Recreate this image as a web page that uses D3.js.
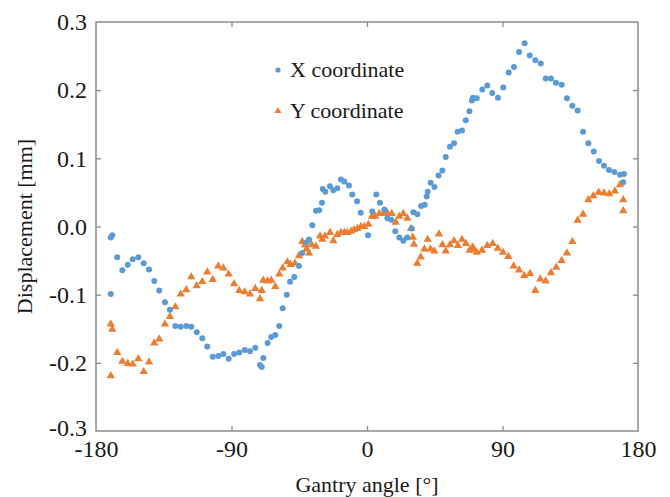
<!DOCTYPE html>
<html>
<head>
<meta charset="utf-8">
<script src="https://cdn.jsdelivr.net/npm/d3@7"></script>
<style>
 body { margin: 0; background: #fff; }
 text { font-family: "Liberation Serif", "Times New Roman", serif; fill: #1a1a1a; }
</style>
</head>
<body>
<div id="chart"></div>
<script>
// X coordinate (blue circles): gantry angle [deg], displacement [mm]
var xAngle = [-170.2,-170.2,-169.2,-165.9,-162.5,-158.9,-155.6,-151.9,-148.3,-144.8,-141.3,-138.0,-134.2,-130.9,-127.3,-123.7,-120.0,-116.7,-113.1,-109.4,-106.1,-102.5,-98.8,-95.4,-91.9,-88.3,-84.8,-81.2,-77.7,-74.2,-71.1,-69.9,-68.9,-66.0,-63.6,-60.9,-58.3,-56.0,-53.3,-51.1,-48.3,-45.2,-43.0,-40.1,-38.5,-36.3,-33.9,-31.7,-29.9,-29.4,-27.7,-24.6,-22.4,-19.7,-17.3,-15.1,-12.0,-9.8,-6.6,-4.2,0.7,3.5,6.2,8.6,11.5,13.5,16.1,18.8,21.5,24.1,26.6,29.7,30.8,33.4,35.9,38.3,39.6,40.3,42.3,44.8,47.5,50.1,52.3,55.1,57.8,60.2,63.1,65.6,68.0,69.7,70.4,72.9,76.6,79.9,83.2,87.0,90.5,94.1,97.6,101.0,104.7,108.1,111.8,115.4,118.7,122.2,125.5,129.3,132.8,136.4,139.9,143.5,147.0,150.6,154.1,157.4,160.7,164.3,168.0,170.7,170.2];
var xDisp = [-0.099,-0.016,-0.013,-0.045,-0.064,-0.056,-0.048,-0.045,-0.054,-0.063,-0.080,-0.094,-0.111,-0.122,-0.146,-0.147,-0.146,-0.147,-0.155,-0.164,-0.176,-0.191,-0.190,-0.187,-0.194,-0.187,-0.185,-0.181,-0.183,-0.178,-0.203,-0.206,-0.193,-0.171,-0.162,-0.159,-0.146,-0.120,-0.100,-0.081,-0.074,-0.058,-0.039,-0.023,-0.019,0.002,0.023,0.024,0.035,0.055,0.051,0.059,0.053,0.056,0.069,0.066,0.060,0.047,0.037,0.020,-0.013,0.022,0.047,0.035,0.025,0.012,0.010,-0.007,-0.016,-0.021,-0.016,-0.003,0.021,0.018,0.030,0.032,0.044,0.051,0.064,0.058,0.075,0.082,0.102,0.117,0.122,0.139,0.141,0.156,0.169,0.185,0.189,0.188,0.201,0.207,0.196,0.189,0.204,0.226,0.234,0.256,0.269,0.251,0.244,0.239,0.217,0.217,0.211,0.208,0.188,0.177,0.170,0.139,0.122,0.110,0.096,0.089,0.083,0.080,0.076,0.077,0.065];

// Y coordinate (orange triangles)
var yAngle = [-170.2,-170.2,-169.2,-165.9,-162.5,-158.9,-155.6,-151.9,-148.3,-144.8,-141.3,-138.0,-134.2,-130.9,-127.3,-123.7,-120.0,-116.7,-113.1,-109.4,-106.1,-102.5,-98.8,-95.4,-91.9,-88.3,-84.8,-81.2,-77.7,-74.2,-71.1,-69.9,-68.9,-66.0,-63.6,-60.9,-58.3,-56.0,-52.9,-50.8,-47.8,-45.2,-43.0,-41.2,-40.1,-38.5,-36.7,-33.9,-31.2,-29.7,-27.9,-24.6,-22.4,-19.7,-17.3,-15.1,-13.1,-10.6,-8.6,-6.4,-4.0,-1.8,0.9,3.3,5.5,8.2,10.8,13.5,16.4,19.1,21.5,24.1,26.8,29.2,30.4,31.2,33.4,35.7,38.1,40.3,42.2,44.7,47.8,50.1,52.3,55.1,57.8,60.4,63.1,65.7,68.1,70.2,70.6,72.9,76.4,79.9,83.5,86.8,90.3,93.9,97.4,101.0,104.5,108.3,111.8,115.1,118.7,122.2,125.7,129.3,132.8,136.4,139.9,143.5,147.0,150.3,153.9,157.4,160.9,164.7,168.0,170.2,170.2];
var yDisp = [-0.143,-0.219,-0.151,-0.185,-0.198,-0.201,-0.202,-0.194,-0.213,-0.199,-0.171,-0.165,-0.143,-0.132,-0.118,-0.099,-0.093,-0.074,-0.087,-0.081,-0.067,-0.078,-0.058,-0.061,-0.070,-0.084,-0.094,-0.096,-0.099,-0.091,-0.106,-0.094,-0.079,-0.080,-0.079,-0.088,-0.070,-0.061,-0.052,-0.056,-0.054,-0.043,-0.022,-0.027,-0.033,-0.039,-0.027,-0.029,-0.014,-0.019,-0.014,-0.009,-0.021,-0.012,-0.009,-0.009,-0.009,-0.007,-0.005,-0.003,0.000,0.000,0.003,0.015,0.015,0.019,0.019,0.020,0.019,0.006,0.015,0.019,0.012,-0.003,-0.016,-0.026,-0.054,-0.045,-0.033,-0.019,-0.033,-0.036,-0.011,-0.027,-0.036,-0.027,-0.021,-0.028,-0.019,-0.025,-0.035,-0.030,-0.033,-0.038,-0.035,-0.028,-0.025,-0.032,-0.038,-0.044,-0.058,-0.064,-0.072,-0.069,-0.094,-0.077,-0.080,-0.068,-0.060,-0.050,-0.039,-0.022,0.009,0.018,0.039,0.045,0.050,0.049,0.048,0.052,0.061,0.039,0.023];

var xTicks = [-180, -90, 0, 90, 180];
var yTicks = [-0.3, -0.2, -0.1, 0.0, 0.1, 0.2, 0.3];
var seriesNames = ["X coordinate", "Y coordinate"];

var width = 670, height = 497;
var margin = {left: 96, right: 32, top: 22, bottom: 66};
var blue = "#5b9bd5", orange = "#ed7d31", frame = "#8c8c8c";
var fs = 22, tickFs = 24;

var svg = d3.select("#chart").append("svg")
  .attr("width", width).attr("height", height);

var x = d3.scaleLinear().domain([-180, 180]).range([margin.left, width - margin.right]);
var y = d3.scaleLinear().domain([-0.3, 0.3]).range([height - margin.bottom, margin.top]);

// inward ticks on all four sides, labels on left and bottom only
function innerTicks(axis, pos, vals){
  var g = svg.append("g").attr("transform", pos).call(axis.tickValues(vals).tickSizeOuter(0));
  g.select(".domain").remove();
  g.selectAll(".tick line").attr("stroke", frame).attr("stroke-width", 1.3);
  g.selectAll(".tick text").attr("font-size", tickFs).attr("fill", "#1a1a1a")
    .attr("font-family", "Liberation Serif");
  return g;
}

var gx = innerTicks(d3.axisBottom(x).tickSize(-5).tickPadding(9).tickFormat(function(d){ return d; }),
  "translate(0," + y(-0.3) + ")", xTicks);
gx.selectAll(".tick").filter(function(d){ return d == -180 || d == 180; }).select("line").remove();

var gy = innerTicks(d3.axisLeft(y).tickSize(-5).tickPadding(9).tickFormat(function(d){ return d.toFixed(1); }),
  "translate(" + x(-180) + ",0)", yTicks);
gy.selectAll(".tick").filter(function(d){ return Math.abs(d) > 0.25; }).select("line").remove();
// lowest label sits just above the x labels, as in the original
gy.selectAll(".tick").filter(function(d){ return d < -0.25; }).select("text").attr("dy", "0.2em");

innerTicks(d3.axisTop(x).tickSize(-5).tickFormat(""), "translate(0," + y(0.3) + ")", [-90, 0, 90]);
innerTicks(d3.axisRight(y).tickSize(-5).tickFormat(""), "translate(" + x(180) + ",0)", [-0.2, -0.1, 0, 0.1, 0.2]);

svg.append("rect")
  .attr("x", x(-180)).attr("y", y(0.3))
  .attr("width", x(180) - x(-180)).attr("height", y(-0.3) - y(0.3))
  .attr("fill", "none").attr("stroke", frame).attr("stroke-width", 1.5);

// axis titles
svg.append("text")
  .attr("x", x(0)).attr("y", 492)
  .attr("text-anchor", "middle").attr("font-size", fs)
  .text("Gantry angle [°]");

svg.append("text")
  .attr("transform", "translate(32," + y(0) + ") rotate(-90)")
  .attr("text-anchor", "middle").attr("font-size", fs)
  .text("Displacement [mm]");

// data
var tri = d3.symbol().type(d3.symbolTriangle).size(30);

svg.append("g").selectAll("path")
  .data(yAngle.map(function(a, i){ return [a, yDisp[i]]; }))
  .enter().append("path")
  .attr("d", tri)
  .attr("transform", function(d){ return "translate(" + x(d[0]) + "," + y(d[1]) + ")"; })
  .attr("fill", orange);

svg.append("g").selectAll("circle")
  .data(xAngle.map(function(a, i){ return [a, xDisp[i]]; }))
  .enter().append("circle")
  .attr("cx", function(d){ return x(d[0]); })
  .attr("cy", function(d){ return y(d[1]); })
  .attr("r", 3)
  .attr("fill", blue);

// legend
var lg = svg.append("g").attr("transform", "translate(278,70)");
lg.append("circle").attr("cx", 0).attr("cy", 0).attr("r", 2.6).attr("fill", blue);
lg.append("path").attr("d", d3.symbol().type(d3.symbolTriangle).size(22))
  .attr("transform", "translate(0,41)").attr("fill", orange);
lg.selectAll("text").data(seriesNames).enter().append("text")
  .attr("x", 12).attr("y", function(d, i){ return 7 + i * 41; })
  .attr("font-size", fs)
  .text(function(d){ return d; });
</script>
</body>
</html>
